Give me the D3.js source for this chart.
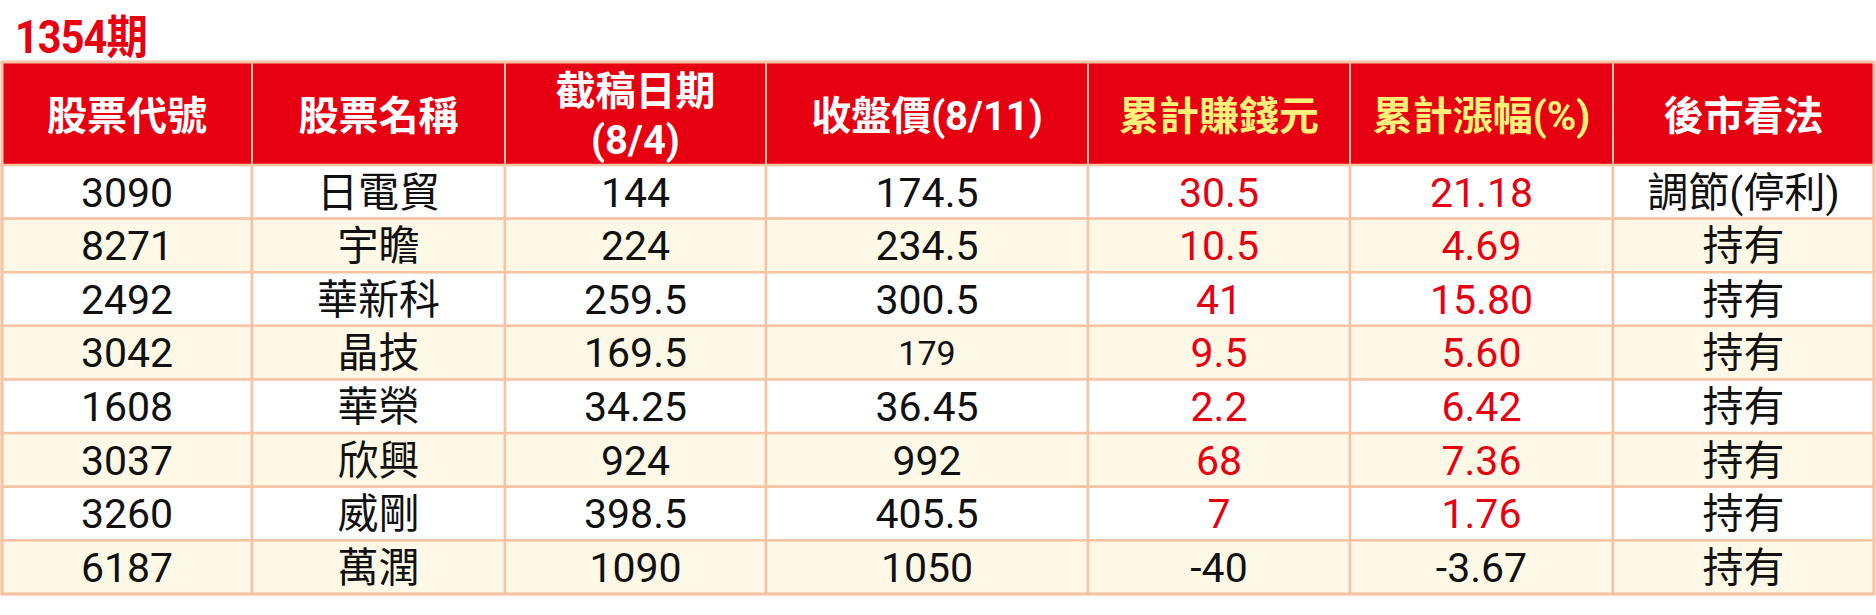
<!DOCTYPE html>
<html lang="zh-Hant">
<head>
<meta charset="UTF-8">
<script src="https://d3js.org/d3.v7.min.js"></script>
<title>1354期</title>
<style>
  body { margin: 0; background: #fff; }
  text { font-family: Roboto, "Noto Sans CJK TC", sans-serif; }
</style>
</head>
<body>
<div id="chart"></div>
<script>
// table data
const issue = "1354期";
const headers = [["股票代號"], ["股票名稱"], ["截稿日期", "(8/4)"], ["收盤價(8/11)"], ["累計賺錢元"], ["累計漲幅(%)"], ["後市看法"]];
const codes = ["3090", "8271", "2492", "3042", "1608", "3037", "3260", "6187"];
const names = ["日電貿", "宇瞻", "華新科", "晶技", "華榮", "欣興", "威剛", "萬潤"];
const basePrices = [144, 224, 259.5, 169.5, 34.25, 924, 398.5, 1090];
const closePrices = [174.5, 234.5, 300.5, 179, 36.45, 992, 405.5, 1050];
const gains = [30.5, 10.5, 41, 9.5, 2.2, 68, 7, -40];
const gainPct = [21.18, 4.69, 15.80, 5.60, 6.42, 7.36, 1.76, -3.67];
const outlook = ["調節(停利)", "持有", "持有", "持有", "持有", "持有", "持有", "持有"];
const colWeights = [250, 253, 261, 322, 262, 263, 261];

const width = 1876, height = 615;
const red = "#e60012", border = "#f6c3a5", cream = "#fef8e6", yellow = "#fff27a";

const svg = d3.select("#chart").append("svg")
    .attr("width", width)
    .attr("height", height)
    .attr("viewBox", [0, 0, width, height]);

// columns: cumulative weights mapped to pixels
const edges = [0, ...d3.cumsum(colWeights)];
const x = d3.scaleLinear().domain([0, d3.sum(colWeights)]).range([2, 1874]);
const headTop = 62, headBottom = 165, tableBottom = 594;
const y = d3.scaleBand().domain(d3.range(codes.length)).range([headBottom, tableBottom]);

// issue label, a little condensed like the print font
svg.append("text")
    .attr("transform", "translate(15,53) scale(0.9,1)")
    .attr("fill", red)
    .attr("font-size", 46)
    .attr("font-weight", 700)
    .attr("letter-spacing", -1)
    .text(issue);

// header
const head = svg.append("g");
head.selectAll("rect")
    .data(headers)
    .join("rect")
    .attr("x", (d, i) => x(edges[i]))
    .attr("y", headTop)
    .attr("width", (d, i) => x(edges[i + 1]) - x(edges[i]))
    .attr("height", headBottom - headTop)
    .attr("fill", red)
    .attr("stroke", border)
    .attr("stroke-width", 2);

head.selectAll("text")
    .data(headers)
    .join("text")
    .attr("x", (d, i) => (x(edges[i]) + x(edges[i + 1])) / 2)
    .attr("y", (headTop + headBottom) / 2 + 2)
    .attr("text-anchor", "middle")
    .attr("font-size", 40)
    .attr("font-weight", 700)
    .attr("fill", (d, i) => (i === 4 || i === 5) ? yellow : "#fff")
    .each(function(d) {
        const t = d3.select(this);
        d.forEach((line, k) => {
            t.append("tspan")
                .attr("x", t.attr("x"))
                .attr("dy", k === 0 ? (0.35 - (d.length - 1) * 0.62) + "em" : "1.24em")
                .text(line);
        });
    });

// body
const rows = codes.map((c, i) => [
    {v: c, color: "#111"},
    {v: names[i], color: "#111"},
    {v: String(basePrices[i]), color: "#111"},
    {v: String(closePrices[i]), color: "#111", small: closePrices[i] === 179},
    {v: String(gains[i]), color: gains[i] >= 0 ? red : "#111"},
    {v: gainPct[i].toFixed(2), color: gainPct[i] >= 0 ? red : "#111"},
    {v: outlook[i], color: "#111"}
]);

const row = svg.append("g").selectAll("g")
    .data(rows)
    .join("g");

row.selectAll("rect")
    .data((d, i) => d.map(c => ({...c, r: i})))
    .join("rect")
    .attr("x", (d, j) => x(edges[j]))
    .attr("y", d => y(d.r))
    .attr("width", (d, j) => x(edges[j + 1]) - x(edges[j]))
    .attr("height", y.bandwidth())
    .attr("fill", d => d.r % 2 ? cream : "#fff")
    .attr("stroke", border)
    .attr("stroke-width", 2.5);

row.selectAll("text")
    .data((d, i) => d.map(c => ({...c, r: i})))
    .join("text")
    .attr("x", (d, j) => (x(edges[j]) + x(edges[j + 1])) / 2)
    .attr("y", d => y(d.r) + y.bandwidth() / 2)
    .attr("dy", "0.36em")
    .attr("text-anchor", "middle")
    .attr("font-size", d => d.small ? 34 : 41)
    .attr("font-weight", 400)
    .attr("fill", d => d.color)
    .text(d => d.v);

// heavier outer frame
svg.append("rect")
    .attr("x", x(0)).attr("y", headTop)
    .attr("width", x(edges[edges.length - 1]) - x(0))
    .attr("height", tableBottom - headTop)
    .attr("fill", "none")
    .attr("stroke", border)
    .attr("stroke-width", 3);
</script>
</body>
</html>
